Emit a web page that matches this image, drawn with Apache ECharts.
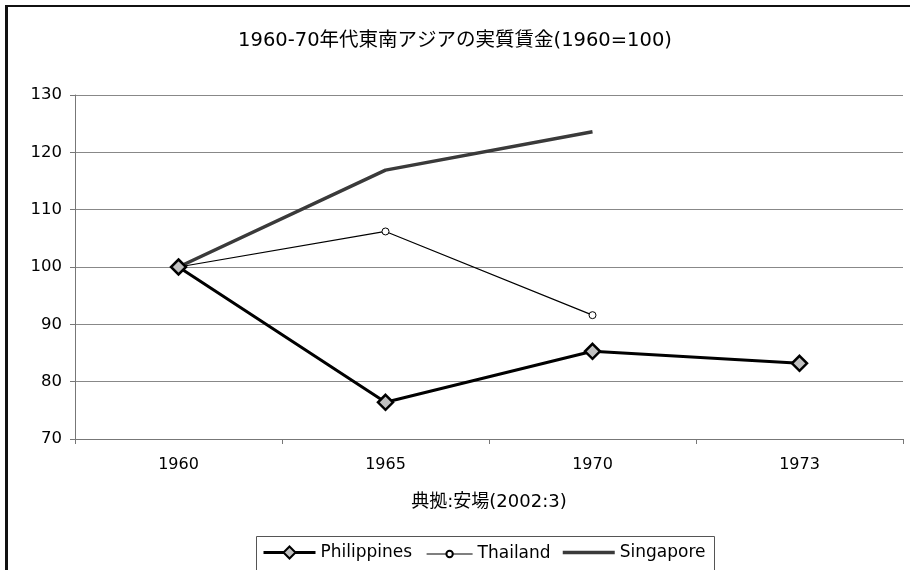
<!DOCTYPE html>
<html>
<head>
<meta charset="utf-8">
<script src="https://cdn.jsdelivr.net/npm/echarts@6/dist/echarts.min.js"></script>
<style>
    html, body { margin: 0; padding: 0; background: #fff; }
    #frame { position: absolute; left: 5px; top: 5px; width: 920px; height: 600px;
             border-top: 2px solid #111; border-left: 3px solid #111; }
    #chart { position: absolute; left: 0; top: 0; width: 910px; height: 570px; }
</style>
</head>
<body>
<div id="frame"></div>
<div id="chart"></div>
<script type="text/javascript">
    var years = ['1960', '1965', '1970', '1973'];
    var philippines = [100, 76.4, 85.3, 83.2];
    var thailand = [100, 106.2, 91.6, null];
    var singapore = [100, 116.9, 123.6, null];

    var font = '"DejaVu Sans", "Noto Sans CJK JP", sans-serif';
    var legendText = { fontFamily: font, fontSize: 17, color: '#000' };
    var myChart = echarts.init(document.getElementById('chart'));

    var option = {
        animation: false,
        textStyle: { fontFamily: font },
        title: {
            text: '1960-70年代東南アジアの実質賃金(1960=100)',
            left: 'center',
            top: 26,
            textStyle: { fontFamily: font, fontSize: 19.5, fontWeight: 'normal', color: '#000' }
        },
        // one legend per series so each icon can have its own symbol size
        legend: [
            {
                left: 262, top: 544, itemWidth: 52, itemHeight: 15, itemGap: 0, padding: 0,
                textStyle: legendText,
                data: [{ name: 'Philippines', lineStyle: { width: 3, color: '#000' } }]
            },
            {
                left: 426, top: 542, itemWidth: 46, itemHeight: 8, itemGap: 0, padding: [3.5, 0, 0, 0],
                textStyle: legendText,
                data: [{ name: 'Thailand', lineStyle: { width: 1.2, color: '#000' } }]
            },
            {
                left: 561, top: 544, itemWidth: 52, itemHeight: 15, itemGap: 0, padding: 0,
                textStyle: legendText,
                data: [{ name: 'Singapore', itemStyle: { opacity: 0 }, lineStyle: { width: 3.5, color: '#3a3a3a' } }]
            }
        ],
        graphic: [{
            type: 'rect',
            shape: { x: 256.5, y: 536.5, width: 458, height: 40 },
            style: { fill: 'none', stroke: '#555', lineWidth: 1 },
            silent: true
        }],
        grid: { left: 75, right: 7, top: 95, bottom: 131 },
        xAxis: {
            type: 'category',
            data: years,
            boundaryGap: true,
            name: '典拠:安場(2002:3)',
            nameLocation: 'middle',
            nameGap: 54,
            nameTextStyle: { fontFamily: font, fontSize: 18, color: '#000' },
            axisLine: { lineStyle: { color: '#777', width: 1 } },
            axisTick: { show: true, length: 5, lineStyle: { color: '#777' } },
            axisLabel: { fontSize: 16, color: '#000', margin: 18 }
        },
        yAxis: {
            type: 'value',
            min: 70,
            max: 130,
            interval: 10,
            axisLine: { show: true, lineStyle: { color: '#777', width: 1 } },
            axisTick: { show: true, length: 5, lineStyle: { color: '#777' } },
            axisLabel: { fontSize: 16.5, color: '#000', margin: 13, padding: [4, 0, 0, 0] },
            splitLine: { lineStyle: { color: '#888', width: 1 } }
        },
        series: [
            {
                name: 'Philippines',
                type: 'line',
                data: philippines,
                symbol: 'diamond',
                symbolSize: 15,
                lineStyle: { color: '#000', width: 3 },
                itemStyle: { color: '#c0c0c0', borderColor: '#000', borderWidth: 2.5 },
                z: 4
            },
            {
                name: 'Thailand',
                type: 'line',
                data: thailand,
                symbol: 'circle',
                symbolSize: 7,
                lineStyle: { color: '#000', width: 1.2 },
                itemStyle: { color: '#fff', borderColor: '#000', borderWidth: 1 },
                z: 3
            },
            {
                name: 'Singapore',
                type: 'line',
                data: singapore,
                symbol: 'none',
                lineStyle: { color: '#3a3a3a', width: 3.5 },
                itemStyle: { color: '#3a3a3a' },
                z: 2
            }
        ]
    };

    myChart.setOption(option);
</script>
</body>
</html>
